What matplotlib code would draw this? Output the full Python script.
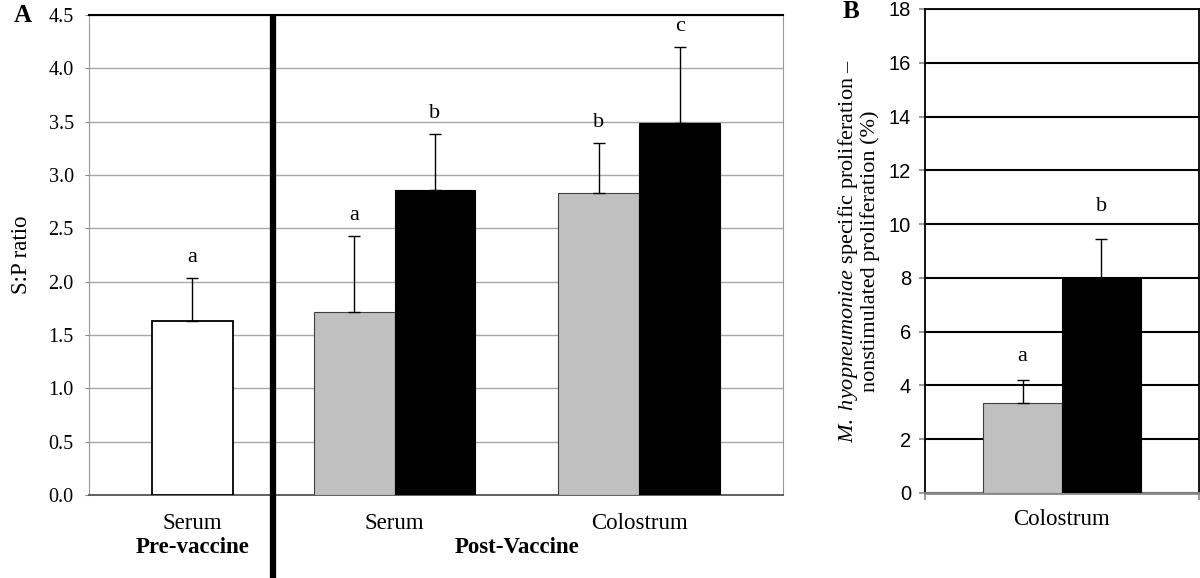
import matplotlib
matplotlib.use("Agg")
import matplotlib.pyplot as plt
import matplotlib.transforms as mtransforms

SERIF = "Liberation Serif"
SANS = "Liberation Sans"
plt.rcParams["mathtext.fontset"] = "custom"
plt.rcParams["mathtext.rm"] = "Liberation Serif"
plt.rcParams["mathtext.it"] = "Liberation Serif:italic"

# ── Panel A : S:P ratio ─────────────────────────────────────────────
pre_value = [1.63]
pre_err = [0.40]
pre_letter = ["a"]

post_groups = ["Serum", "Colostrum"]
post_gray = [1.72, 2.83]
post_gray_err = [0.71, 0.47]
post_gray_letters = ["a", "b"]
post_black = [2.86, 3.49]
post_black_err = [0.52, 0.71]
post_black_letters = ["b", "c"]

a_ticks = [0.0, 0.5, 1.0, 1.5, 2.0, 2.5, 3.0, 3.5, 4.0, 4.5]

# ── Panel B : proliferation ─────────────────────────────────────────
b_group = ["Colostrum"]
b_gray = [3.33]
b_gray_err = [0.86]
b_black = [7.99]
b_black_err = [1.47]
b_letters = ["a", "b"]
b_ticks = list(range(0, 20, 2))

GRAY = "#c0c0c0"
W = 1200
H = 578


def box(l, r, t, b):
    return [l / W, (H - b) / H, (r - l) / W, (b - t) / H]


fig = plt.figure(figsize=(12, 5.78), dpi=100)

# ---------------------------------------------------------------- A
ax = fig.add_axes(box(89, 783, 15, 495))
bw = 0.4
pre_x = [0.0]
post_x = [1.0, 2.21]

ax.bar(pre_x, pre_value, bw, color="white", edgecolor="black", linewidth=1.3, zorder=3)
ax.bar([x - bw / 2 for x in post_x], post_gray, bw, color=GRAY, edgecolor="#404040",
       linewidth=0.8, zorder=3)
ax.bar([x + bw / 2 for x in post_x], post_black, bw, color="black", edgecolor="black",
       linewidth=0.8, zorder=3)

err_kw = dict(fmt="none", ecolor="black", elinewidth=1.0, capsize=4, capthick=1.0, zorder=4)
ax.errorbar(pre_x, pre_value, yerr=[[0], pre_err], **err_kw)
ax.errorbar([x - bw / 2 for x in post_x], post_gray, yerr=[[0, 0], post_gray_err], **err_kw)
ax.errorbar([x + bw / 2 for x in post_x], post_black, yerr=[[0, 0], post_black_err], **err_kw)

letter_kw = dict(textcoords="offset points", xytext=(0, 8), ha="center", va="bottom",
                 fontsize=16, family=SERIF)
ax.annotate(pre_letter[0], (pre_x[0], pre_value[0] + pre_err[0]), **letter_kw)
for x, v, e, t in zip(post_x, post_gray, post_gray_err, post_gray_letters):
    ax.annotate(t, (x - bw / 2, v + e), **letter_kw)
for x, v, e, t in zip(post_x, post_black, post_black_err, post_black_letters):
    ax.annotate(t, (x + bw / 2, v + e), **letter_kw)

ax.set_xlim(-0.51, 2.92)
ax.set_ylim(0, 4.5)
ax.set_yticks(a_ticks)
ax.set_yticklabels([f"{t:.1f}" for t in a_ticks], family=SERIF, fontsize=14.5)
ax.yaxis.grid(True, color="#a8a8a8", linewidth=1.0, zorder=0)
ax.set_axisbelow(True)
ax.tick_params(axis="y", length=3, color="#888888", pad=8)
ax.tick_params(axis="x", length=0)
ax.set_xticks([])
for side in ["left", "right"]:
    ax.spines[side].set_color("#999999")
ax.spines["bottom"].set_color("#555555")
ax.spines["bottom"].set_linewidth(1.3)
ax.spines["top"].set_color("black")
ax.spines["top"].set_linewidth(1.5)

ax.set_ylabel("S:P ratio", family=SERIF, fontsize=16.5, labelpad=12)

# thick divider between pre- and post-vaccine, running to the bottom
trans = mtransforms.blended_transform_factory(ax.transData, ax.transAxes)
ax.plot([0.4, 0.4], [-0.18, 1.0], color="black", linewidth=4.5, transform=trans,
        clip_on=False, zorder=5, solid_capstyle="butt")

lab_kw = dict(transform=trans, ha="center", va="center", fontsize=16.5, family=SERIF)
ax.text(pre_x[0], -0.06, "Serum", **lab_kw)
ax.text(pre_x[0], -0.11, "Pre-vaccine", fontweight="bold", **lab_kw)
for x, g in zip(post_x, post_groups):
    ax.text(x, -0.06, g, **lab_kw)
ax.text(sum(post_x) / 2, -0.11, "Post-Vaccine", fontweight="bold", **lab_kw)

fig.text(14 / W, 1 - 15 / H, "A", family=SERIF, fontsize=18, fontweight="bold",
         ha="left", va="center")

# ---------------------------------------------------------------- B
bx = fig.add_axes(box(925, 1199, 9, 493))
bw2 = 0.288
gx = [-bw2 / 2]
kx = [bw2 / 2]
bx.bar(gx, b_gray, bw2, color=GRAY, edgecolor="#404040", linewidth=0.8, zorder=3)
bx.bar(kx, b_black, bw2, color="black", edgecolor="black", linewidth=0.8, zorder=3)
bx.errorbar(gx, b_gray, yerr=[[0], b_gray_err], **err_kw)
bx.errorbar(kx, b_black, yerr=[[0], b_black_err], **err_kw)
bx.annotate(b_letters[0], (gx[0], b_gray[0] + b_gray_err[0]), textcoords="offset points",
            xytext=(0, 10), ha="center", va="bottom", fontsize=16, family=SERIF)
bx.annotate(b_letters[1], (kx[0], b_black[0] + b_black_err[0]), textcoords="offset points",
            xytext=(0, 16), ha="center", va="bottom", fontsize=16, family=SERIF)

bx.set_xlim(-0.5, 0.5)
bx.set_ylim(0, 18)
bx.set_yticks(b_ticks)
bx.set_yticklabels([str(t) for t in b_ticks], family=SANS, fontsize=14.5)
bx.yaxis.grid(True, color="black", linewidth=1.5, zorder=0)
bx.set_axisbelow(True)
bx.tick_params(axis="y", length=4, color="#888888", width=1.2, pad=6)
bx.set_xticks([-0.5, 0.5])
bx.set_xticklabels(["", ""])
bx.tick_params(axis="x", length=5, color="#888888", width=1.2)
bx.text(0, -0.055, b_group[0], transform=bx.get_xaxis_transform(), ha="center",
        va="center", fontsize=16.5, family=SERIF)
for side in ["left", "right", "top"]:
    bx.spines[side].set_color("black")
    bx.spines[side].set_linewidth(1.3)
bx.spines["bottom"].set_color("#888888")
bx.spines["bottom"].set_linewidth(2)

bx.set_ylabel(r"$\mathit{M.\ hyopneumoniae}$ specific proliferation –" + "\n"
              + "nonstimulated proliferation (%)",
              family=SERIF, fontsize=16, labelpad=6, linespacing=1.05)

fig.text(843 / W, 1 - 12 / H, "B", family=SERIF, fontsize=18, fontweight="bold",
         ha="left", va="center")

fig.savefig("out.png", dpi=100)
